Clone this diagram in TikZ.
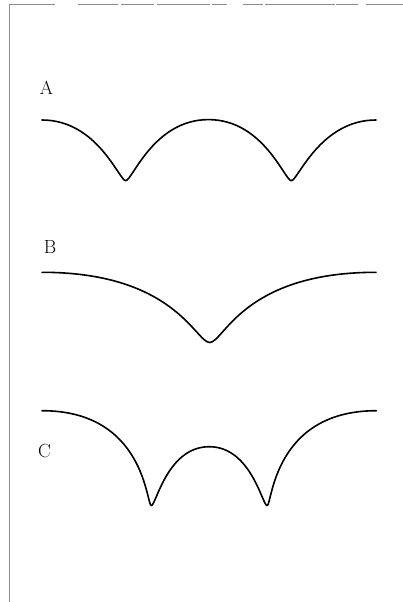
\documentclass[tikz,border=0pt]{standalone}
\usepackage{fontspec}
\begin{document}
\begin{tikzpicture}[x=1pt,y=-1pt,
  curve/.style={line width=1.6pt, black, line join=round, line cap=round},
  frame/.style={line width=0.7pt, black!45},
  lbl/.style={inner sep=0pt, font=\fontsize{19}{21}\selectfont}]
\useasboundingbox (0,0) rectangle (403,602);
% frame (left edge and broken top edge)
\draw[frame] (9.5,602) -- (9.5,4.7) -- (55,4.7);
\foreach \a/\b in {78/118,121/154,157/210,212/227,243/263,265/335,336/358,366/403}
  \draw[frame] (\a,4.7) -- (\b,4.7);
% labels
\node[lbl] (labA) at (46.5,87.5) {A};
\node[lbl] (labB) at (50,247.5) {B};
\node[lbl] (labC) at (44.5,451.5) {C};
% curve A
\draw[curve] (42,120)
  .. controls (97.6,120) and (119.2,180.7) .. (125.7,180.7)
  .. controls (132.2,180.7) and (153.5,119.6) .. (208.5,119.6)
  .. controls (263.5,119.6) and (284.8,180.7) .. (291.3,180.7)
  .. controls (297.8,180.7) and (320,120) .. (376,120);
% curve B
\draw[curve] (42,272.3)
  .. controls (175,272.3) and (195.7,342.5) .. (209.7,342.5)
  .. controls (223.7,342.5) and (243,272.3) .. (376,272.3);
% curve C
\draw[curve] (42,410.7)
  .. controls (145.6,410.7) and (146.3,505.6) .. (151.3,505.6)
  .. controls (156,505.6) and (167.2,446.7) .. (209.2,446.7)
  .. controls (251.2,446.7) and (262.4,505.6) .. (267.1,505.6)
  .. controls (272.1,505.6) and (272.8,410.7) .. (376.4,410.7);
\end{tikzpicture}
\end{document}
